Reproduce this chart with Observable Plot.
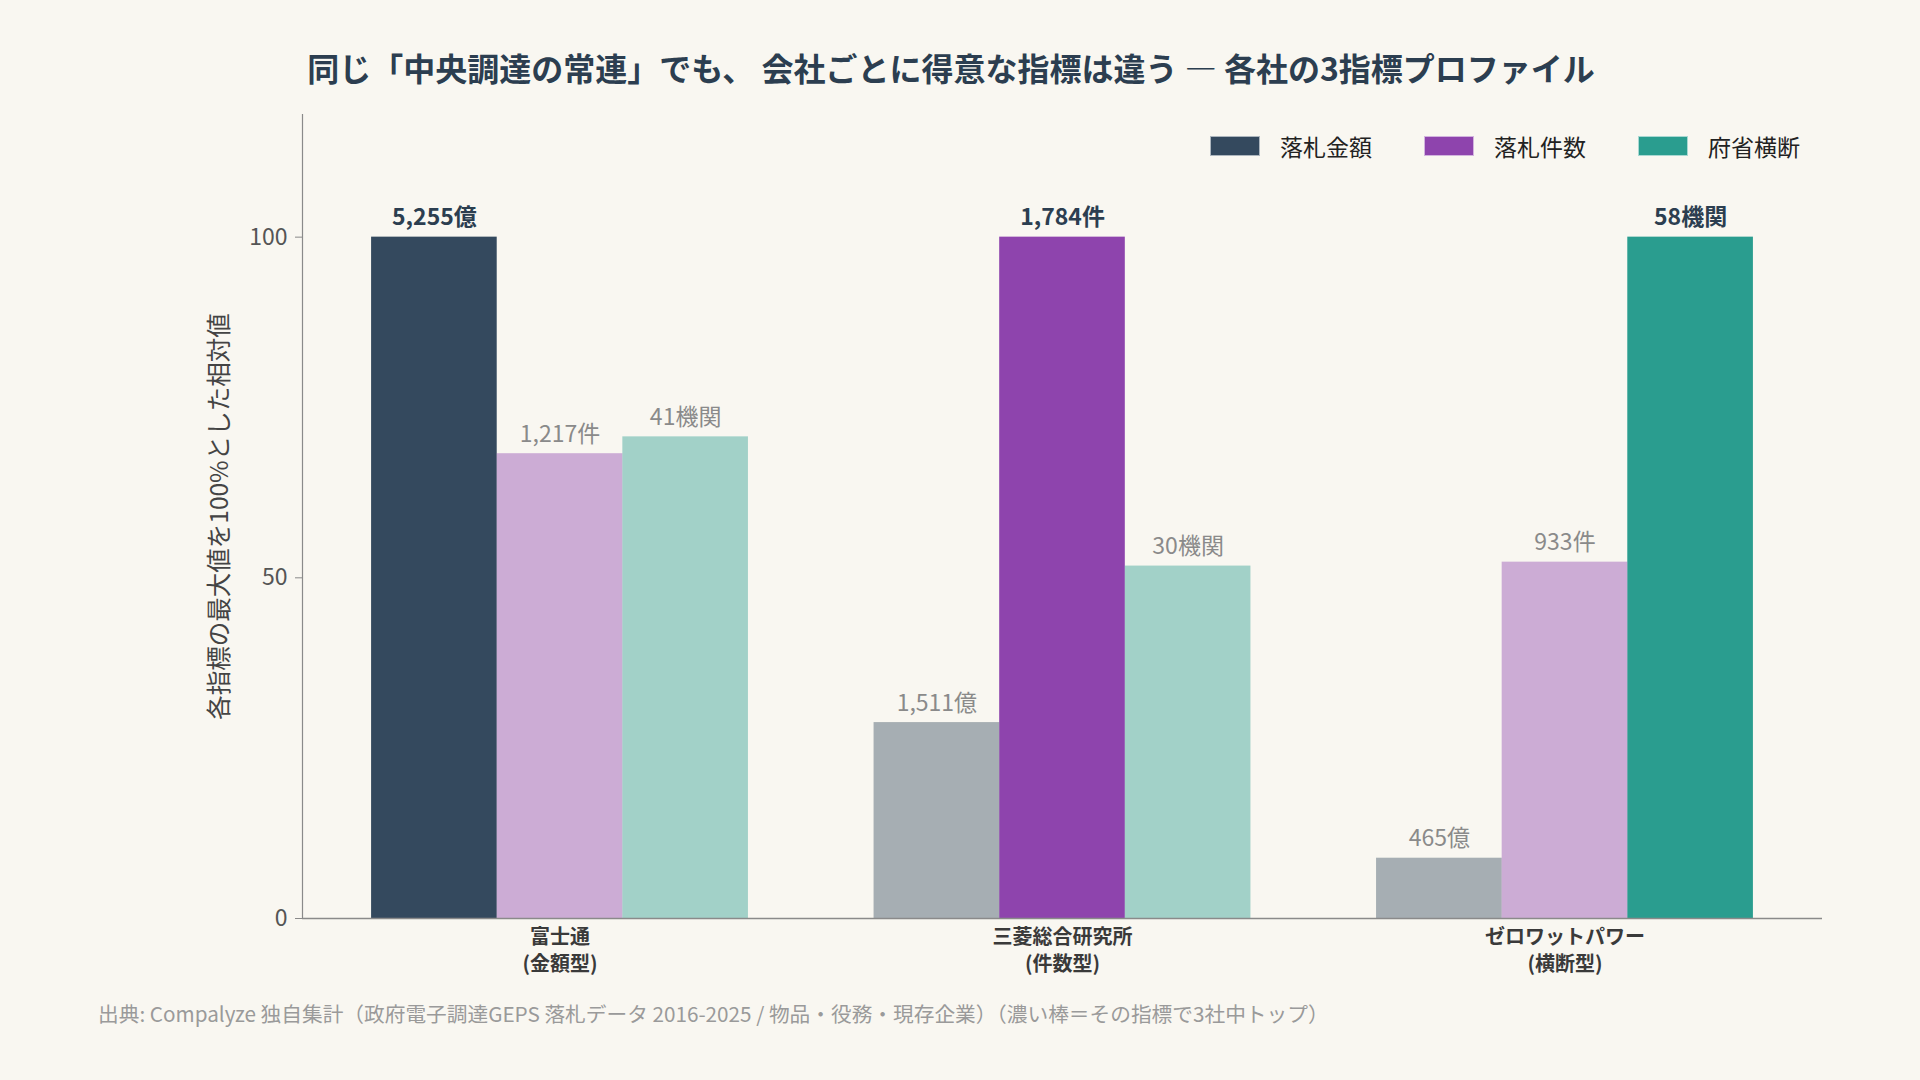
<!DOCTYPE html>
<html lang="ja">
<head>
<meta charset="utf-8">
<script src="https://cdn.jsdelivr.net/npm/d3@7"></script>
<script src="https://cdn.jsdelivr.net/npm/@observablehq/plot@0.6"></script>
<style>
  html, body { margin: 0; padding: 0; background: #f9f7f1; }
  #root { position: relative; width: 1920px; height: 1080px; background: #f9f7f1; overflow: hidden;
          font-family: "Noto Sans CJK JP", "Noto Sans", sans-serif; }
  #title { position: absolute; left: 0; width: 1902px; top: 45px; text-align: center;
           font-size: 32px; font-weight: bold; color: #2c3e50; line-height: 44px; }
  #chart { position: absolute; left: 0; top: 100px; }
  #legend { position: absolute; right: 120px; top: 132px; display: flex; gap: 52px; align-items: center; }
  .item { display: flex; align-items: center; gap: 20px; font-size: 23px; color: #222; line-height: 28px; }
  .sw { width: 50px; height: 20px; box-sizing: border-box; border: 1px solid rgba(255,255,255,0.6); }
  #caption { position: absolute; left: 98px; top: 999px; font-size: 20.7px; color: #9a9a9a; line-height: 28px; }
</style>
</head>
<body>
<div id="root">
  <div id="title"></div>
  <div id="legend"></div>
  <div id="chart"></div>
  <div id="caption"></div>
</div>
<script>
// ---- data ----
const titleText = "同じ「中央調達の常連」でも、 会社ごとに得意な指標は違う ― 各社の3指標プロファイル";
const captionText = "出典: Compalyze 独自集計（政府電子調達GEPS 落札データ 2016-2025 / 物品・役務・現存企業）（濃い棒＝その指標で3社中トップ）";
const yLabel = "各指標の最大値を100%とした相対値";
const companies = ["富士通", "三菱総合研究所", "ゼロワットパワー"];
const companyTypes = ["金額型", "件数型", "横断型"];
const metrics = ["落札金額", "落札件数", "府省横断"];
const metricUnits = ["億", "件", "機関"];
const metricColors = ["#34495e", "#8e44ad", "#2a9d8f"];
const amountOku = [5255, 1511, 465];   // 落札金額（億円）
const bidCounts = [1217, 1784, 933];   // 落札件数
const ministries = [41, 30, 58];       // 府省横断（機関数）
const yTicks = [0, 50, 100];
const yMax = 118;

// ---- build table ----
const series = [amountOku, bidCounts, ministries];
const barWidth = 0.25;
const rows = [];
companies.forEach((c, i) => {
  series.forEach((vals, j) => {
    const max = d3.max(vals);
    const xc = i + (j - 1) * barWidth;
    rows.push({
      company: c, metric: metrics[j], raw: vals[i],
      rel: vals[i] / max * 100,
      top: vals[i] === max,
      color: metricColors[j],
      xc, x1: xc - barWidth / 2, x2: xc + barWidth / 2,
      label: d3.format(",")(vals[i]) + metricUnits[j]
    });
  });
});
const span = [d3.min(rows, d => d.x1), d3.max(rows, d => d.x2)];
const pad = (span[1] - span[0]) * 0.05;
const xDomain = [span[0] - pad, span[1] + pad];
const companyRows = companies.map((c, i) => ({i, text: c + "\n(" + companyTypes[i] + ")"}));

const font = "Noto Sans CJK JP, Noto Sans, sans-serif";
const chart = Plot.plot({
  width: 1920, height: 860,
  marginLeft: 302, marginRight: 98, marginTop: 14, marginBottom: 42,
  style: {background: "transparent", fontFamily: font, overflow: "visible"},
  x: {domain: xDomain, axis: null},
  y: {domain: [0, yMax], axis: null},
  marks: [
    Plot.rectY(rows.filter(d => d.top), {x1: "x1", x2: "x2", y: "rel", fill: "color"}),
    Plot.rectY(rows.filter(d => !d.top), {x1: "x1", x2: "x2", y: "rel", fill: "color", fillOpacity: 0.42}),
    Plot.ruleY([0], {stroke: "#8a8a8a", strokeWidth: 1.6}),
    Plot.ruleX([xDomain[0]], {stroke: "#8a8a8a", strokeWidth: 1.2}),
    Plot.axisY({ticks: yTicks, tickSize: 7, tickPadding: 8, fontSize: 23, stroke: "#8a8a8a", fill: "#555", label: null}),
    Plot.text(rows.filter(d => d.top), {x: "xc", y: "rel", text: "label", lineAnchor: "bottom", dy: -12,
      fontSize: 23, fontWeight: "bold", fill: "#2c3e50"}),
    Plot.text(rows.filter(d => !d.top), {x: "xc", y: "rel", text: "label", lineAnchor: "bottom", dy: -12,
      fontSize: 23, fill: "#8a8a8a"}),
    Plot.text(companyRows, {x: "i", y: 0, text: "text", lineAnchor: "top", dy: 6, lineHeight: 1.35,
      fontSize: 20, fontWeight: "bold", fill: "#3a3a3a"}),
    Plot.text([yLabel], {frameAnchor: "left", textAnchor: "middle", rotate: -90, dx: -82, fontSize: 24.5, fill: "#444"})
  ]
});
document.getElementById("chart").appendChild(chart);
document.getElementById("title").textContent = titleText;
document.getElementById("caption").textContent = captionText;
const legend = document.getElementById("legend");
metrics.forEach((m, j) => {
  const it = document.createElement("div");
  it.className = "item";
  const sw = document.createElement("div");
  sw.className = "sw";
  sw.style.background = metricColors[j];
  const t = document.createElement("span");
  t.textContent = m;
  it.appendChild(sw); it.appendChild(t);
  legend.appendChild(it);
});
</script>
</body>
</html>
